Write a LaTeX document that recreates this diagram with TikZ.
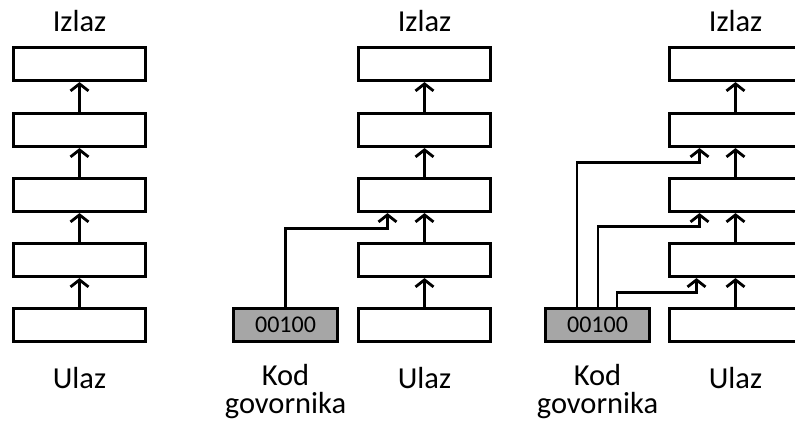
\documentclass[tikz,border=0pt]{standalone}
\usepackage{fontspec}
\setmainfont{Carlito}
\usetikzlibrary{arrows.meta}
\begin{document}
\begin{tikzpicture}[x=1pt,y=-1pt,
  layer/.style={draw, line width=3.2pt, minimum width=132pt, minimum height=33pt, inner sep=0pt, fill=white},
  codebox/.style={draw, line width=3.2pt, minimum width=104pt, minimum height=33pt, inner sep=0pt, fill=codegray, font=\fontsize{24}{24}\selectfont},
  lbl/.style={font=\fontsize{30.5}{30.5}\selectfont, anchor=base, inner sep=0pt},
  flow/.style={line width=2.8pt, -{Straight Barb[length=7pt,width=18pt,line width=2.8pt]}},
  wire/.style={line width=2.8pt, -{Straight Barb[length=7pt,width=18pt,line width=2.8pt]}}
]
\definecolor{codegray}{HTML}{A6A6A6}
\useasboundingbox (0,0) rectangle (795,425);

% three stacks of five layers each
\foreach \c/\x in {a/79.5, b/424.5, c/735.5}{
  \foreach \i/\y in {1/325, 2/260, 3/195, 4/130, 5/64}{
    \node[layer] (\c\i) at (\x,\y) {};
  }
  \foreach \i/\j in {1/2, 2/3, 3/4, 4/5}{
    \draw[flow] (\c\i.north) -- (\c\j.south);
  }
  \node[lbl] (out\c) at (\x,32) {Izlaz};
  \node[lbl] (in\c) at (\x,388) {Ulaz};
}

% speaker code boxes
\node[codebox] (kb) at (285.5,325) {00100};
\node[codebox] (kc) at (597.5,325) {00100};
\foreach \k/\x in {b/285.5, c/597.5}{
  \node[lbl] (kod\k) at (\x,385) {Kod};
  \node[lbl] (gov\k) at (\x,413) {govornika};
}

% speaker code fed into one layer
\coordinate (s3) at ([xshift=-37pt]b3.south);
\draw[wire] (kb.north) |- ([yshift=-15pt]s3) -- (s3);

% speaker code fed into every hidden layer
\coordinate (t2) at ([xshift=-39pt]c2.south);
\coordinate (t3) at ([xshift=-36pt]c3.south);
\coordinate (t4) at ([xshift=-36pt]c4.south);
\draw[wire] ([xshift=19.5pt]kc.north) |- ([yshift=-14pt]t2) -- (t2);
\draw[wire] ([xshift=0.5pt]kc.north) |- ([yshift=-13pt]t3) -- (t3);
\draw[wire] ([xshift=-20.5pt]kc.north) |- ([yshift=-14pt]t4) -- (t4);
\end{tikzpicture}
\end{document}
